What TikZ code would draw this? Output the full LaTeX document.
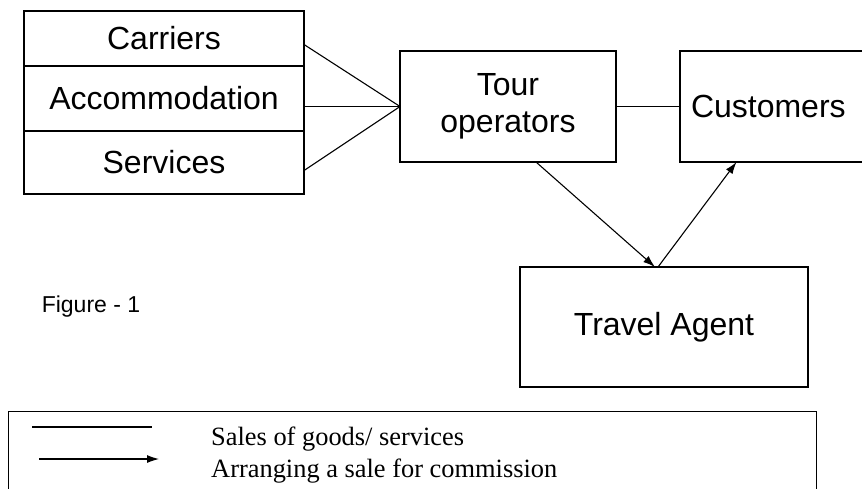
\documentclass[tikz,border=0pt]{standalone}
\usepackage{fontspec}
\setmainfont{Liberation Sans}
\newfontfamily\legendfont{Liberation Serif}
\usepackage{tikz}
\usetikzlibrary{positioning}
\usetikzlibrary{arrows.meta}
\tikzset{%
  every box/.style={
    draw,
    rectangle,
    line width=1.2pt,
    inner sep=0pt,
    outer sep=0pt,
    font=\fontsize{32}{37}\selectfont
  },
  key text/.style={
    anchor=base west,
    inner sep=0pt,
    font=\legendfont\fontsize{26.4}{32}\selectfont
  },
}

\begin{document}
\begin{tikzpicture}[x=1pt,y=-1pt]
      \tikzstyle{sale} = [draw, line width=1.1pt]
      \tikzstyle{line} = [draw, line width=1.1pt, -{Latex[length=12pt,width=8pt]}]
      \useasboundingbox (0,0) rectangle (862,488);

      % Suppliers
      \node[every box,minimum width=280pt,minimum height=55pt,anchor=north west] (carriers) at (24,11) {Carriers\hspace{12pt}};
      \node[every box,minimum width=280pt,minimum height=65pt,below=0pt of carriers] (accom) {Accommodation\hspace{14pt}};
      \node[every box,minimum width=280pt,minimum height=63pt,below=0pt of accom] (services) {Services\hspace{10pt}};

      % Tour operators
      \node[every box,minimum width=216pt,minimum height=111pt,align=center,anchor=north west] (tour) at (400,51) {Tour\\operators};

      % Customers
      \node[every box,text width=165pt,inner xsep=11pt,minimum height=111pt,align=left,right=64pt of tour] (cust) {Customers};

      % Travel agent
      \node[every box,minimum width=288pt,minimum height=120pt,anchor=north west] (agent) at (520,267) {Travel Agent};

      % Caption
      \node[font=\fontsize{23}{27}\selectfont] (fig) at (91,307) {Figure - 1};

      % suppliers -> tour
      \path[sale] ([yshift=-6pt]carriers.east) -- (tour.west);
      \path[sale] ([yshift=-8pt]accom.east) -- (tour.west);
      \path[sale] ([yshift=-8pt]services.east) -- (tour.west);

      % tour -> customers
      \path[sale] (tour.east) -- (cust.west);

      % tour -> agent -> customers
      \path[line] ([xshift=28pt]tour.south) -- ([xshift=-9pt]agent.north);
      \path[line] ([xshift=-6pt]agent.north) -- ([xshift=-37pt]cust.south);

      % Key
      \node[draw,line width=1.2pt,minimum width=808pt,minimum height=100pt,anchor=north west] (key) at (8,411) {};
      \node[key text] (salesText) at (211,445) {Sales of goods/ services};
      \node[key text] (commText) at (211,477) {Arranging a sale for commission};
      \coordinate (saleA) at (32,427);
      \coordinate (saleB) at (152,427);
      \coordinate (commA) at (39,459);
      \coordinate (commB) at (159,459);
      \path[sale] (saleA) -- (saleB);
      \path[line] (commA) -- (commB);
\end{tikzpicture}
\end{document}
